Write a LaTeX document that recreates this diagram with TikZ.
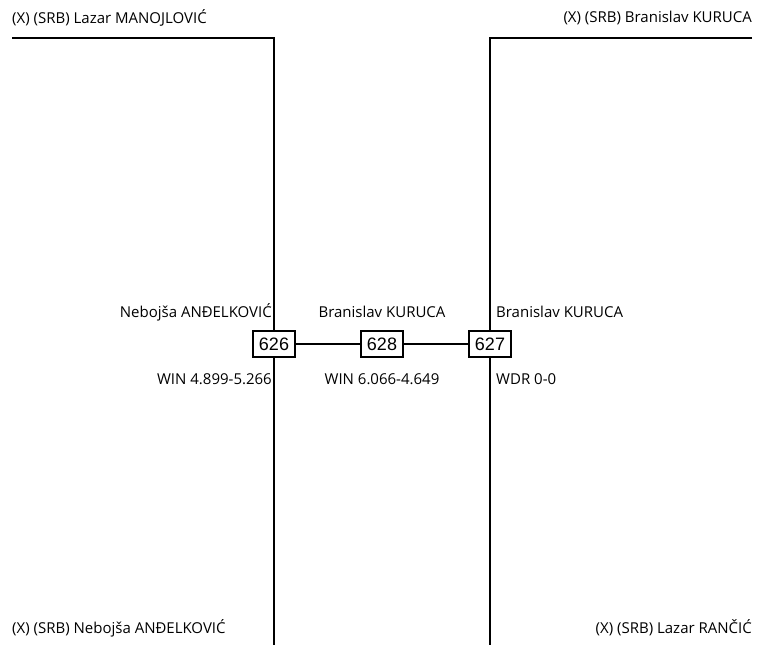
\documentclass[tikz,border=0pt]{standalone}
\usepackage{fontspec}
\setmainfont{Open Sans}
\newfontfamily\boxfont{Liberation Sans}
\begin{document}
\begin{tikzpicture}
		[	x=1pt,y=-1pt,
		game/.style={rectangle,draw=black,line width=2.6pt,fill=white,inner sep=0pt,minimum width=42pt,minimum height=26pt,font=\boxfont\fontsize{18}{18}\selectfont},
		plain/.style={draw=none,fill=none,inner sep=0pt,font=\fontsize{15}{17}\selectfont},
		wire/.style={line width=1.6pt}
		]
		\useasboundingbox (0,0) rectangle (758,645);
		% bracket corners
		\coordinate (tl) at (12,38);
		\coordinate (tlc) at (274,38);
		\coordinate (bl) at (274,645);
		\coordinate (tr) at (752,38);
		\coordinate (trc) at (490,38);
		\coordinate (br) at (490,645);

		\node[plain,anchor=west] (p1) at (12,18){(X) (SRB) Lazar MANOJLOVIĆ};
		\node[plain,anchor=east] (p2) at (752,18){(X) (SRB) Branislav KURUCA};
		\node[plain,anchor=west] (p3) at (12,628){(X) (SRB) Nebojša ANĐELKOVIĆ};
		\node[plain,anchor=east] (p4) at (752,628){(X) (SRB) Lazar RANČIĆ};

		\draw[wire] (tl) -- (tlc) -- (bl);
		\draw[wire] (tr) -- (trc) -- (br);

		\node[game] (g626) at (274,344){626};
		\node[game] (g628) at (382,344){628};
		\node[game] (g627) at (490,344){627};
		\draw[wire] (g626) -- (g628) -- (g627);

\node[plain,anchor=east] (w626) at (272,312){Nebojša ANĐELKOVIĆ};
\node[plain] (w628) at (382,312){Branislav KURUCA};
\node[plain,anchor=west] (w627) at (496,312){Branislav KURUCA};
\node[plain,anchor=east] (s626) at (272,379){WIN 4.899-5.266};
\node[plain] (s628) at (382,379){WIN 6.066-4.649};
\node[plain,anchor=west] (s627) at (496,379){WDR 0-0};
	\end{tikzpicture}
\end{document}
